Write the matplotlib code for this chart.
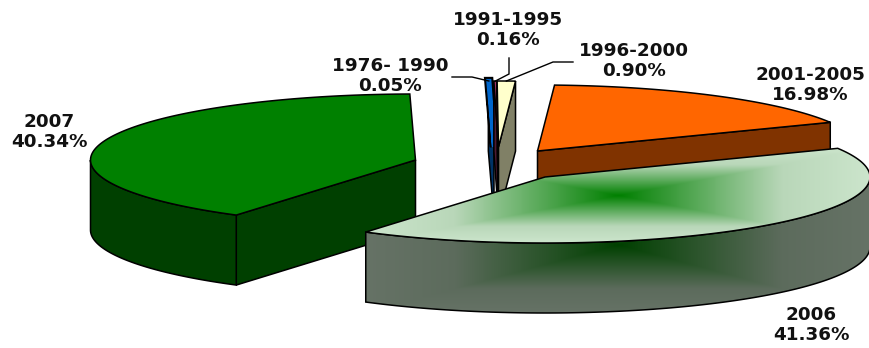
import numpy as np
import matplotlib
matplotlib.use('Agg')
import matplotlib.pyplot as plt
from matplotlib.colors import LinearSegmentedColormap
from matplotlib.patches import Polygon

# 数据
periods = ['1976- 1990', '1991-1995', '1996-2000', '2001-2005', '2006', '2007']
shares = [0.05, 0.16, 0.90, 16.98, 41.36, 40.34]

# 样式和布局 (像素坐标)
face_colors = ['#0066CC', '#993366', '#FFFFCC', '#FF6600', '#CCE5CC', '#008000']
origins = [(494, 147), (498.5, 147), (498.5, 147), (537.5, 151), (545, 177), (415.5, 160)]
label_pos = [(390, 76), (508, 30), (634, 61), (810, 85), (811, 325), (49, 132)]
leaders = [[(452, 77), (472, 77)], [(509, 58), (509, 74)], [(573, 62), (553, 62)], None, None, None]
draw_order = [5, 0, 1, 2, 3, 4]

RX, RY = 325, 66
DEPTH = 70
START_ANGLE = 91
LW = 1.1

# 每块的起止角度 (顺时针)
sweeps = np.array(shares) / sum(shares) * 360
ends = START_ANGLE - np.cumsum(sweeps)
starts = ends + sweeps


def arc_points(origin, t1, t2, n=120):
    t = np.radians(np.linspace(t1, t2, n))
    return np.column_stack([origin[0] + RX * np.cos(t), origin[1] - RY * np.sin(t)])


def shift_down(pts):
    return pts + np.array([0, DEPTH])


def wall_polygon(top):
    return np.vstack([top, shift_down(top)[::-1]])


def half_color(color):
    return tuple(c * 0.5 for c in matplotlib.colors.to_rgb(color))


def gradient_fill(ax, pts, cmap):
    # 矩形路径渐变, 从包围盒中心向外
    x0, y0 = pts.min(axis=0)
    x1, y1 = pts.max(axis=0)
    xx, yy = np.meshgrid(np.linspace(-1, 1, 500), np.linspace(-1, 1, 200))
    u = np.maximum(np.abs(xx), np.abs(yy))
    im = ax.imshow(u, cmap=cmap, vmin=0, vmax=1, extent=(x0, x1, y1, y0), aspect='auto', interpolation='bilinear', zorder=3)
    clip = Polygon(pts, closed=True, transform=ax.transData, fill=False, edgecolor='none')
    ax.add_patch(clip)
    im.set_clip_path(clip)


def draw_slice(ax, i):
    o = np.array(origins[i], dtype=float)
    t1, t2 = starts[i], ends[i]
    color = face_colors[i]
    dark = half_color(color)
    arc = arc_points(o, t1, t2)
    face = np.vstack([o, arc])

    # 2006 用渐变填充
    if periods[i] == '2006':
        base = [(0, (0, 0.5, 0)), (0.65, (0.725, 0.843, 0.725)), (1, matplotlib.colors.to_rgb(color))]
        face_cmap = LinearSegmentedColormap.from_list('face', base)
        wall_cmap = LinearSegmentedColormap.from_list('wall', [(p, tuple(v * 0.5 for v in c)) for p, c in base])
    else:
        face_cmap = wall_cmap = None

    # 径向侧面, 朝向观察者的才画
    walls = []
    if arc[0, 0] < o[0]:
        walls.append(np.array([arc[0], o]))
    if arc[-1, 0] > o[0]:
        walls.append(np.array([o, arc[-1]]))

    # 外弧侧面 (前半圈)
    lo, hi = sorted([t1, t2])
    for k in (-1, 0):
        a = max(lo, 180 + 360 * k)
        b = min(hi, 360 + 360 * k)
        if b > a:
            walls.append(arc_points(o, a, b))

    for top in walls:
        pts = wall_polygon(top)
        if wall_cmap is not None:
            gradient_fill(ax, pts, wall_cmap)
            ax.add_patch(Polygon(pts, closed=True, fill=False, edgecolor='black', lw=LW, zorder=3))
        else:
            ax.add_patch(Polygon(pts, closed=True, facecolor=dark, edgecolor='black', lw=LW, joinstyle='miter', zorder=3))

    if face_cmap is not None:
        gradient_fill(ax, face, face_cmap)
        ax.add_patch(Polygon(face, closed=True, fill=False, edgecolor='black', lw=LW, zorder=3))
    elif sweeps[i] < 0.3:
        # 太窄的一块加粗描边才看得见
        ax.add_patch(Polygon(face, closed=True, fill=False, edgecolor='black', lw=6, joinstyle='miter', zorder=3))
        ax.add_patch(Polygon(face, closed=True, facecolor=color, edgecolor=color, lw=3, joinstyle='miter', zorder=3))
    else:
        ax.add_patch(Polygon(face, closed=True, facecolor=color, edgecolor='black', lw=LW, joinstyle='miter', zorder=3))


fig = plt.figure(figsize=(8.69, 3.48), dpi=100)
ax = fig.add_axes([0, 0, 1, 1])

for i in draw_order:
    draw_slice(ax, i)

ax.set_xlim(0, 869)
ax.set_ylim(348, 0)
ax.axis('off')

# 标签和引线
for i, name in enumerate(periods):
    ax.text(label_pos[i][0], label_pos[i][1], f'{name}\n{shares[i]:.2f}%', ha='center', va='center',
            family='DejaVu Sans', fontweight='bold', fontsize=13.2, linespacing=1.08, color='#111111', zorder=5)
    if leaders[i] is not None:
        tip = arc_points(origins[i], starts[i], ends[i], n=3)[1]
        path = np.array(leaders[i] + [tuple(tip)])
        ax.plot(path[:, 0], path[:, 1], color='black', lw=1.0, zorder=4, solid_joinstyle='miter')

fig.savefig('out.png', dpi=100)
